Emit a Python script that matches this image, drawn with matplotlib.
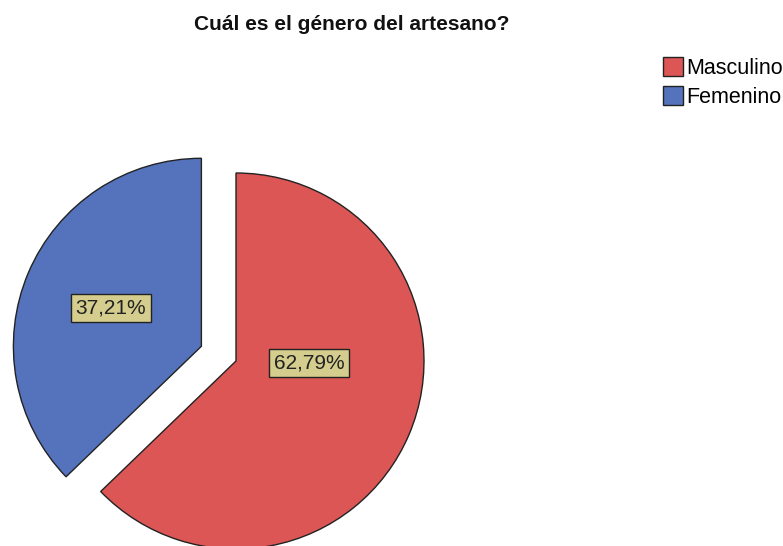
import matplotlib
matplotlib.use("Agg")
import matplotlib.pyplot as plt

categories = ["Masculino", "Femenino"]
values = [62.79, 37.21]
labels_pct = ["62,79%", "37,21%"]
colors = ["#dc5656", "#5473bc"]

W, H = 783, 546
fig = plt.figure(figsize=(W / 100, H / 100), dpi=100)
ax = fig.add_axes([0, 0, 1, 1])
plt.rcParams['font.family'] = ['Liberation Sans', 'DejaVu Sans']

R = 188
cx, cy = 236, H - 361
wedges, _ = ax.pie(values, colors=colors, startangle=90, counterclock=False,
                   explode=[0, 0.2 * R], radius=R, center=(cx, cy),
                   wedgeprops=dict(edgecolor="#222222", linewidth=1.0))
ax.set_xlim(0, W)
ax.set_ylim(0, H)
ax.set_aspect("equal")
ax.axis("off")

label_pos = [(309, H - 363), (111, H - 308)]
for (x, y), t in zip(label_pos, labels_pct):
    ax.text(x, y, t, ha="center", va="center", fontsize=15, color="#222222",
            family=['Liberation Sans', 'DejaVu Sans'],
            bbox=dict(boxstyle="square,pad=0.22", facecolor="#d4cd8e", edgecolor="#222222", linewidth=1.0))

fig.text(352 / W, 1 - 25 / H, "Cuál es el género del artesano?", ha="center", va="center",
         fontsize=15, fontweight="bold", family=['Liberation Sans', 'DejaVu Sans'], color="#111111")

leg = ax.legend(wedges, categories, loc="upper left", bbox_to_anchor=(659 / W, 1 - 53 / H),
                bbox_transform=fig.transFigure, frameon=False,
                prop=dict(family=['Liberation Sans', 'DejaVu Sans'], size=15.5),
                handlelength=0.93, handleheight=0.93, handletextpad=0.15, labelspacing=0.35,
                borderpad=0.2, borderaxespad=0)
for h in leg.legend_handles:
    h.set_edgecolor("#222222")
    h.set_linewidth(1.0)

fig.savefig("out.png", dpi=100)
